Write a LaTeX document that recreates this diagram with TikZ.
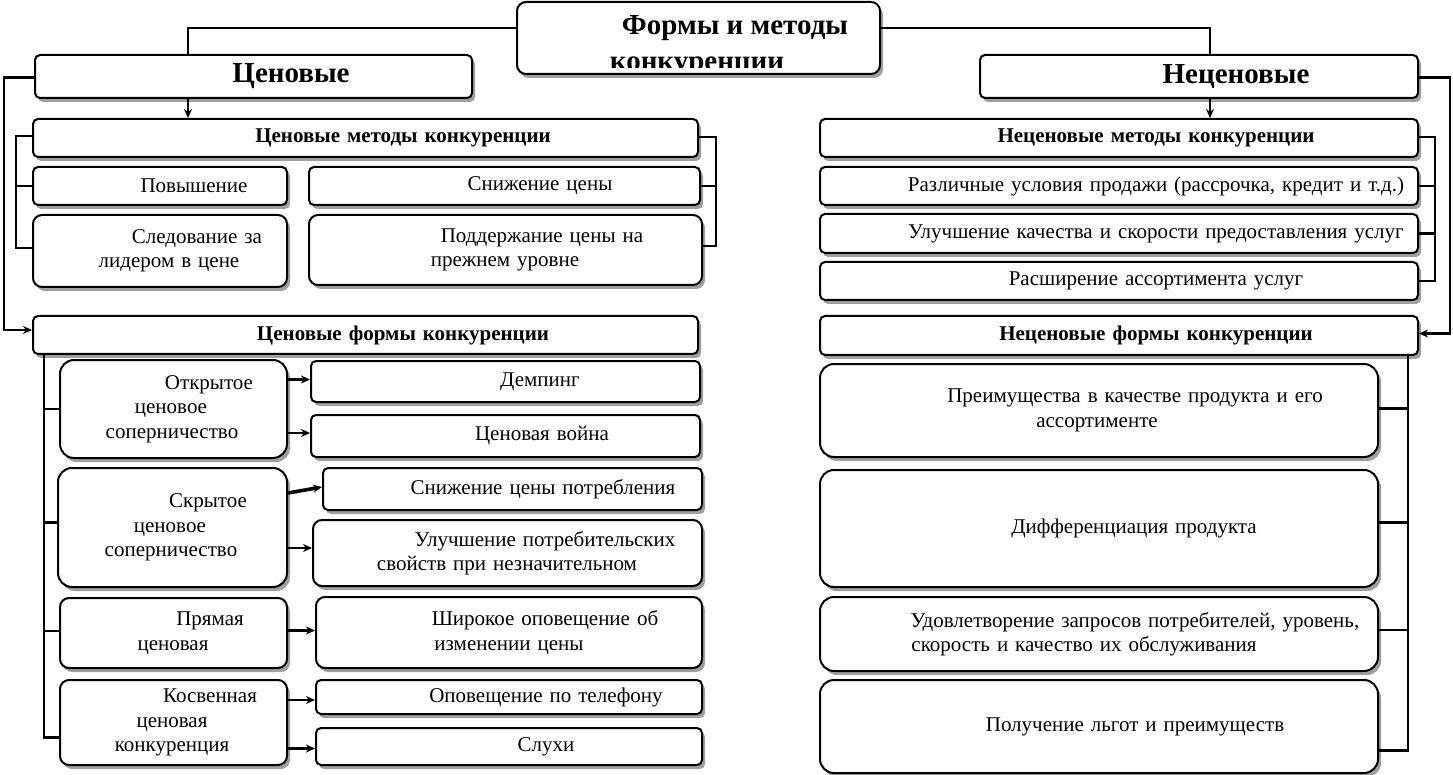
\documentclass[tikz,border=0pt]{standalone}
\usepackage{fontspec}
\setmainfont{Liberation Serif}
\usetikzlibrary{shadows,arrows.meta,calc}
\setlength{\parindent}{0pt}
\newcommand\BoxAt[7][]{%
  \pgfmathsetmacro\bw{#5-#3}%
  \pgfmathsetmacro\bh{#6-#4}%
  \node[box,#1,minimum width=\bw pt,minimum height=\bh pt,text width=\bw pt] (#2) at ({(#3+#5)/2},{(#4+#6)/2}) {#7};}
\newcommand\Ln[2]{\hspace*{#1pt}\makebox[0pt]{#2}}
\tikzset{
  box/.style={draw=black, line width=2pt, fill=white, rounded corners=5pt,
    inner xsep=0pt, inner ysep=0pt, align=left,
    font=\fontsize{21}{24.5}\selectfont,
    drop shadow={shadow xshift=3pt, shadow yshift=-4pt, opacity=0.5, fill=black!75}},
  big/.style={rounded corners=14pt},
  hdr/.style={font=\fontsize{21}{24.5}\selectfont\bfseries},
  top/.style={font=\fontsize{29}{32}\selectfont\bfseries},
  conn/.style={line width=2.2pt},
  arr/.style={conn, -{Stealth[length=9pt,width=8pt]}},
}
\begin{document}
\begin{tikzpicture}[x=1pt,y=-1pt]
\useasboundingbox (0,0) rectangle (1453,775);
\coordinate (lx) at (188,0);
\coordinate (rx) at (1210,0);
\coordinate (lo) at (4,200);
\coordinate (ro) at (1450,200);
\coordinate (lb) at (16,200);
\coordinate (rb) at (716,200);
\coordinate (nb) at (1435,200);
\coordinate (fx) at (44,500);
\coordinate (gx) at (1408,500);

% title
\BoxAt[top,rounded corners=9pt]{title}{517}{2}{880}{74}{}
\begin{scope}
  \clip (519,4) rectangle (878,68);
  \node[top,anchor=base,inner sep=0pt] (t1) at (735,35) {Формы и методы};
  \node[top,anchor=base,inner sep=0pt] (t2) at (697,71) {конкуренции};
\end{scope}

\BoxAt[top]{cen}{35}{55}{472}{98}{\Ln{256}{Ценовые}}
\BoxAt[top]{ncen}{980}{55}{1418}{98}{\Ln{256}{Неценовые}}

% price methods
\BoxAt[hdr]{pmeth}{33}{119}{698}{157}{\Ln{370}{Ценовые методы конкуренции}}
\BoxAt{pov}{33}{167}{287}{205}{\Ln{161}{Повышение}}
\BoxAt{sniz}{309}{167}{700}{205}{\Ln{231}{Снижение цены}}
\BoxAt[rounded corners=9pt]{sled}{33}{215}{287}{287}{\Ln{164}{Следование за}\\\Ln{136}{лидером в цене}}
\BoxAt[rounded corners=9pt]{podd}{309}{215}{702}{285}{\Ln{233}{Поддержание цены на}\\\Ln{196}{прежнем уровне}}

% price forms
\BoxAt[hdr]{pform}{33}{316}{698}{354}{\Ln{370}{Ценовые формы конкуренции}}
\BoxAt[big]{otkr}{60}{360}{287}{458}{\Ln{149}{Открытое}\\\Ln{111}{ценовое}\\\Ln{112}{соперничество}}
\BoxAt{demp}{311}{361}{700}{402}{\Ln{229}{Демпинг}}
\BoxAt{cwar}{311}{415}{700}{457}{\Ln{231}{Ценовая война}}
\BoxAt[big]{skryt}{58}{468}{287}{587}{\Ln{150}{Скрытое}\\\Ln{112}{ценовое}\\\Ln{113}{соперничество}}
\BoxAt{snpot}{323}{468}{702}{510}{\Ln{220}{Снижение цены потребления}}
\BoxAt[rounded corners=9pt]{ulpot}{313}{520}{702}{586}{\Ln{232}{Улучшение потребительских}\\\Ln{194}{свойств при незначительном}}
\BoxAt[rounded corners=9pt]{pryam}{60}{598}{287}{668}{\Ln{150}{Прямая}\\\Ln{113}{ценовая}}
\BoxAt[rounded corners=9pt]{shir}{316}{597}{702}{668}{\Ln{229}{Широкое оповещение об}\\\Ln{193}{изменении цены}}
\BoxAt[rounded corners=9pt]{kosv}{60}{680}{287}{765}{\Ln{150}{Косвенная}\\\Ln{112}{ценовая}\\\Ln{112}{конкуренция}}
\BoxAt{opov}{316}{680}{702}{714}{\Ln{230}{Оповещение по телефону}}
\BoxAt{sluh}{316}{728}{702}{765}{\Ln{230}{Слухи}}

% non-price methods
\BoxAt[hdr]{nmeth}{820}{119}{1418}{157}{\Ln{336}{Неценовые методы конкуренции}}
\BoxAt{razl}{820}{167}{1418}{205}{\Ln{336}{Различные условия продажи (рассрочка, кредит и т.д.)}}
\BoxAt{ulk}{820}{214}{1418}{253}{\Ln{336}{Улучшение качества и скорости предоставления услуг}}
\BoxAt{rassh}{820}{262}{1418}{300}{\Ln{336}{Расширение ассортимента услуг}}

% non-price forms
\BoxAt[hdr]{nform}{820}{316}{1418}{355}{\Ln{336}{Неценовые формы конкуренции}}
\BoxAt[big]{preim}{820}{364}{1378}{457}{\Ln{315}{Преимущества в качестве продукта и его}\\\Ln{277}{ассортименте}}
\BoxAt[big]{diff}{820}{470}{1378}{587}{\Ln{314}{Дифференциация продукта}}
\BoxAt[big]{udov}{820}{597}{1378}{671}{\Ln{315}{Удовлетворение запросов потребителей, уровень,}\\\Ln{264}{скорость и качество их обслуживания}}
\BoxAt[big]{poluch}{820}{680}{1378}{773}{\Ln{315}{Получение льгот и преимуществ}}

% connectors from title
\draw[conn] ([yshift=10pt]title.west) -| (cen.north -| lx);
\draw[conn] ([yshift=10pt]title.east) -| (ncen.north -| rx);
\draw[arr] (cen.south -| lx) -- (pmeth.north -| lx);
\draw[arr] (ncen.south -| rx) -- (nmeth.north -| rx);
\draw[arr] ([yshift=-1pt]cen.west) -| (lo) |- ([yshift=5pt]pform.west);
\draw[arr] ([yshift=-1pt]ncen.east) -| (ro) |- ([yshift=2pt]nform.east);

% brackets of methods
\draw[conn] ([yshift=2pt]pmeth.west) -| (lb) |- ([yshift=3pt]sled.west);
\draw[conn] (lb |- pov.west) -- (pov.west);
\draw[conn] ([yshift=1pt]pmeth.east) -| (rb) |- ([yshift=4pt]podd.east);
\draw[conn] (rb |- sniz.east) -- (sniz.east);
\draw[conn] ([yshift=1pt]nmeth.east) -| (nb) |- (rassh.east);
\draw[conn] (nb |- razl.east) -- (razl.east);
\draw[conn] (nb |- ulk.east) -- (ulk.east);

% left forms trunk
\draw[conn] (pform.south -| fx) |- ([yshift=-15pt]kosv.west);
\draw[conn] (fx |- otkr.west) -- (otkr.west);
\draw[conn] ([yshift=5pt]fx |- skryt.west) -- ([yshift=5pt]skryt.west);
\draw[conn] ([yshift=2pt]fx |- pryam.west) -- ([yshift=2pt]pryam.west);

% right forms trunk
\draw[conn] (nform.south -| gx) |- ([yshift=-24pt]poluch.east);
\draw[conn] ([yshift=2pt]gx |- preim.east) -- ([yshift=2pt]preim.east);
\draw[conn] ([yshift=6pt]gx |- diff.east) -- ([yshift=6pt]diff.east);
\draw[conn] ([yshift=4pt]gx |- udov.east) -- ([yshift=4pt]udov.east);

% arrows within price forms
\draw[arr] ([yshift=2pt]otkr.east |- demp.west) -- ([yshift=2pt]demp.west);
\draw[arr] ([yshift=3pt]otkr.east |- cwar.west) -- ([yshift=3pt]cwar.west);
\draw[arr, line width=3.6pt] ([yshift=-4pt]skryt.east |- snpot.west) -- ([yshift=2pt]snpot.west);
\draw[arr] ([yshift=5pt]skryt.east |- ulpot.west) -- ([yshift=5pt]ulpot.west);
\draw[arr] ([yshift=2pt]pryam.east |- shir.west) -- ([yshift=2pt]shir.west);
\draw[arr] ([yshift=-3pt]kosv.east |- opov.west) -- ([yshift=-3pt]opov.west);
\draw[arr] ([yshift=-2pt]kosv.east |- sluh.west) -- ([yshift=-2pt]sluh.west);
\end{tikzpicture}
\end{document}
